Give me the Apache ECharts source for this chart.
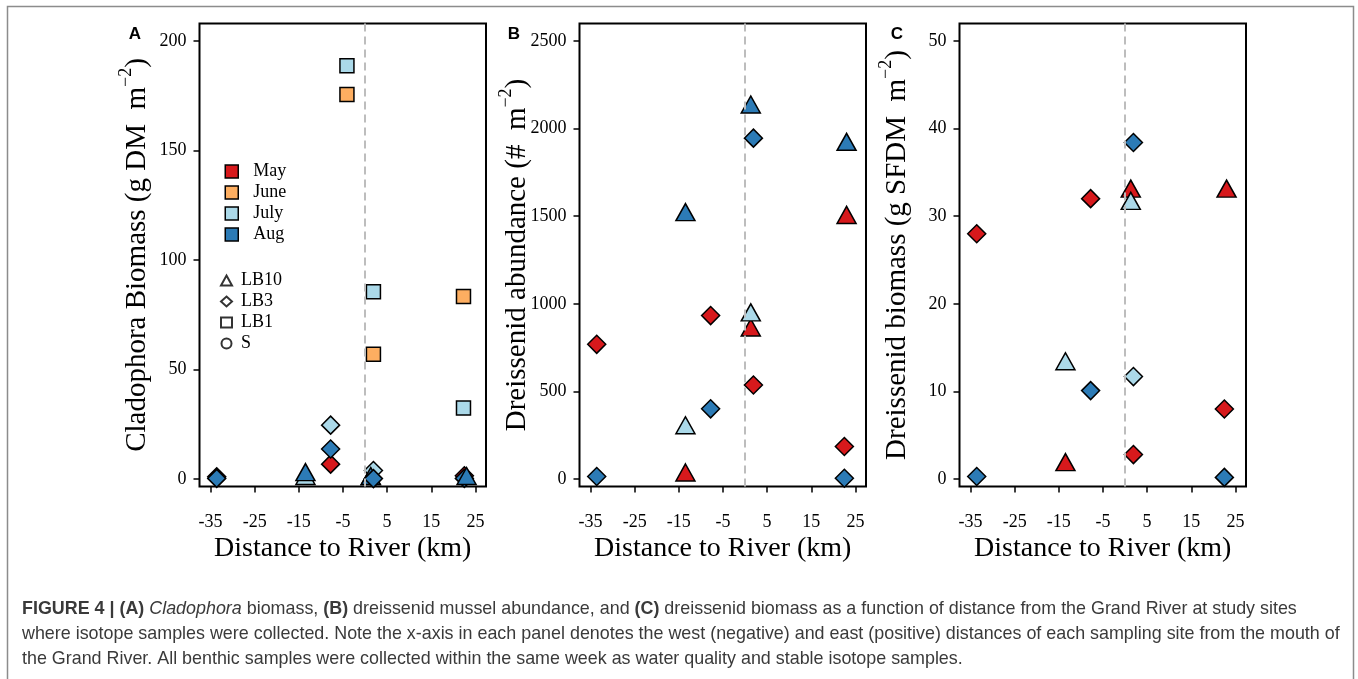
<!DOCTYPE html>
<html>
<head>
<meta charset="utf-8">
<script src="https://cdn.jsdelivr.net/npm/echarts@6/dist/echarts.min.js"></script>
<style>
html, body { margin: 0; padding: 0; background: #fff; }
#chart { width: 1358px; height: 679px; }
</style>
</head>
<body>
<div id="chart"></div>
<script>
var months = ['May', 'June', 'July', 'Aug'];
var monthColors = ['#D7191C', '#FDAE61', '#ABD9E9', '#2C7BB6'];
var sites = ['LB10', 'LB3', 'LB1', 'S'];
var siteSymbols = ['triangle', 'diamond', 'rect', 'circle'];
var siteSizes = [[19, 17], 18, 14, 14];

var xTicks = [-35, -25, -15, -5, 5, 15, 25];
var yTicksA = [0, 50, 100, 150, 200];
var yTicksB = [0, 500, 1000, 1500, 2000, 2500];
var yTicksC = [0, 10, 20, 30, 40, 50];

// [distance to river (km), value, month, site]
var cladophora = [
    [-33.6, 1.0, 'May', 'LB3'],
    [-33.6, 0.3, 'Aug', 'LB3'],
    [-13.5, 0, 'July', 'LB10'],
    [-13.5, 1.8, 'Aug', 'LB10'],
    [-7.8, 6.8, 'May', 'LB3'],
    [-7.8, 24.6, 'July', 'LB3'],
    [-7.8, 13.7, 'Aug', 'LB3'],
    [-4.1, 175.5, 'June', 'LB1'],
    [-4.1, 188.6, 'July', 'LB1'],
    [1.3, 0, 'July', 'LB10'],
    [1.3, 0, 'Aug', 'LB10'],
    [1.9, 57.0, 'June', 'LB1'],
    [1.9, 85.5, 'July', 'LB1'],
    [1.9, 3.9, 'July', 'LB3'],
    [1.9, 0.2, 'Aug', 'LB3'],
    [22.3, 83.3, 'June', 'LB1'],
    [22.3, 32.4, 'July', 'LB1'],
    [22.5, 1.5, 'May', 'LB3'],
    [22.5, 0.3, 'Aug', 'LB3'],
    [23.0, 0, 'Aug', 'LB10']
];

var abundance = [
    [-33.6, 769, 'May', 'LB3'],
    [-33.6, 15, 'Aug', 'LB3'],
    [-13.5, 21, 'May', 'LB10'],
    [-13.5, 290, 'July', 'LB10'],
    [-13.5, 1506, 'Aug', 'LB10'],
    [-7.8, 933, 'May', 'LB3'],
    [-7.8, 401, 'Aug', 'LB3'],
    [1.3, 848, 'May', 'LB10'],
    [1.3, 934, 'July', 'LB10'],
    [1.3, 2120, 'Aug', 'LB10'],
    [1.9, 537, 'May', 'LB3'],
    [1.9, 1945, 'Aug', 'LB3'],
    [22.5, 186, 'May', 'LB3'],
    [22.5, 5, 'Aug', 'LB3'],
    [23.0, 1490, 'May', 'LB10'],
    [23.0, 1907, 'Aug', 'LB10']
];

var biomass = [
    [-33.6, 28.0, 'May', 'LB3'],
    [-33.6, 0.3, 'Aug', 'LB3'],
    [-13.5, 1.6, 'May', 'LB10'],
    [-13.5, 13.1, 'July', 'LB10'],
    [-7.8, 32.0, 'May', 'LB3'],
    [-7.8, 10.1, 'Aug', 'LB3'],
    [1.3, 32.8, 'May', 'LB10'],
    [1.3, 31.4, 'July', 'LB10'],
    [1.9, 2.8, 'May', 'LB3'],
    [1.9, 11.7, 'July', 'LB3'],
    [1.9, 38.4, 'Aug', 'LB3'],
    [22.5, 8.0, 'May', 'LB3'],
    [22.5, 0.2, 'Aug', 'LB3'],
    [23.0, 32.8, 'May', 'LB10']
];

var serif = '"Liberation Serif", "Times New Roman", serif';
var sans = '"Liberation Sans", Arial, sans-serif';

var panels = [
    {rows: cladophora, left: 199.5, yMin: -3.4, yMax: 207.9, yTicks: yTicksA,
     title: ['Cladophora Biomass (g DM  m', ')'], letter: 'A', letterX: 135},
    {rows: abundance, left: 579.5, yMin: -42, yMax: 2599, yTicks: yTicksB,
     title: ['Dreissenid abundance (#  m', ')'], letter: 'B', letterX: 514},
    {rows: biomass, left: 959.5, yMin: -0.84, yMax: 51.98, yTicks: yTicksC,
     title: ['Dreissenid biomass (g SFDM  m', ')'], letter: 'C', letterX: 897}
];

var plain = function (v) { return String(v); };

var grids = [], xAxes = [], yAxes = [], series = [], graphics = [];

panels.forEach(function (p, i) {
    grids.push({
        left: p.left, top: 23.5, width: 286.5, height: 463,
        show: true, borderColor: '#000', borderWidth: 2,
        containLabel: false, outerBoundsMode: 'none'
    });
    xAxes.push({
        gridIndex: i, type: 'value', min: -37.5, max: 27.4,
        name: 'Distance to River (km)', nameLocation: 'middle', nameGap: 48,
        nameMoveOverlap: false,
        nameTextStyle: {fontFamily: serif, fontSize: 28, color: '#000'},
        axisLine: {show: false, onZero: false},
        splitLine: {show: false},
        axisTick: {show: true, length: 6, customValues: xTicks, lineStyle: {color: '#000', width: 1.5}},
        axisLabel: {customValues: xTicks, formatter: plain, margin: 27, fontFamily: serif, fontSize: 18, color: '#000'}
    });
    yAxes.push({
        gridIndex: i, type: 'value', min: p.yMin, max: p.yMax,
        name: '{t|' + p.title[0] + '}{s|\u22122}{t|' + p.title[1] + '}',
        nameLocation: 'middle', nameGap: 42, nameMoveOverlap: false,
        nameTextStyle: {
            color: '#000',
            rich: {
                t: {fontFamily: serif, fontSize: 29, lineHeight: 40, color: '#000'},
                s: {fontFamily: serif, fontSize: 18, verticalAlign: 'top', color: '#000'}
            }
        },
        axisLine: {show: false, onZero: false},
        splitLine: {show: false},
        axisTick: {show: true, length: 6, customValues: p.yTicks, lineStyle: {color: '#000', width: 1.5}},
        axisLabel: {customValues: p.yTicks, formatter: plain, margin: 13, fontFamily: serif, fontSize: 18, color: '#000'}
    });

    // dashed line at the river mouth
    series.push({
        type: 'scatter', name: 'river', xAxisIndex: i, yAxisIndex: i, data: [], z: 1,
        silent: true,
        markLine: {
            symbol: 'none', silent: true, label: {show: false},
            lineStyle: {color: '#bdbdbd', type: [8, 5], width: 2},
            data: [{xAxis: 0}]
        }
    });

    months.forEach(function (m, mi) {
        series.push({
            type: 'scatter', name: m, xAxisIndex: i, yAxisIndex: i, z: 2,
            symbol: 'rect',
            itemStyle: {color: monthColors[mi], borderColor: '#000', borderWidth: 1.5, opacity: 1},
            data: p.rows.filter(function (r) { return r[2] === m; }).map(function (r) {
                var si = sites.indexOf(r[3]);
                return {
                    value: [r[0], r[1]],
                    symbol: siteSymbols[si],
                    symbolSize: siteSizes[si],
                    symbolOffset: si === 0 ? [0, -3] : [0, 0]
                };
            })
        });
    });

    graphics.push({
        type: 'text', x: p.letterX, y: 34,
        style: {text: p.letter, font: 'bold 17px ' + sans, fill: '#000', align: 'center', verticalAlign: 'middle'}
    });
});

// shape legend entries (no points of their own)
sites.forEach(function (s, si) {
    series.push({
        type: 'scatter', name: s, xAxisIndex: 0, yAxisIndex: 0, data: [],
        symbol: siteSymbols[si],
        itemStyle: {color: '#fff', borderColor: '#000', borderWidth: 2}
    });
});

var captionLines = [
    '{b|FIGURE 4 | (A)} {i|Cladophora} biomass, {b|(B)} dreissenid mussel abundance, and {b|(C)} dreissenid biomass as a function of distance from the Grand River at study sites',
    'where isotope samples were collected. Note the x-axis in each panel denotes the west (negative) and east (positive) distances of each sampling site from the mouth of',
    'the Grand River. All benthic samples were collected within the same week as water quality and stable isotope samples.'
];

captionLines.forEach(function (line, li) {
    graphics.push({
        type: 'text', x: 22, y: 609 + li * 25,
        style: {
            text: line, fontFamily: sans, fontSize: 17.9, fill: '#3a3a3a', verticalAlign: 'middle',
            rich: {
                b: {fontFamily: sans, fontSize: 17.9, fontWeight: 'bold', fill: '#3a3a3a'},
                i: {fontFamily: sans, fontSize: 17.9, fontStyle: 'italic', fill: '#3a3a3a'}
            }
        }
    });
});

graphics.push({
    type: 'rect', shape: {x: 7.5, y: 6.5, width: 1346, height: 700},
    style: {fill: 'none', stroke: '#8c8c8c', lineWidth: 1.5}, silent: true
});

var chart = echarts.init(document.getElementById('chart'));

chart.setOption({
    animation: false,
    backgroundColor: '#fff',
    grid: grids,
    xAxis: xAxes,
    yAxis: yAxes,
    legend: [{
        data: months.map(function (m, mi) {
            return {name: m, icon: 'rect', itemStyle: {color: monthColors[mi], borderColor: '#000', borderWidth: 1.5}};
        }),
        orient: 'vertical', left: 224.5, top: 162.5,
        itemWidth: 13, itemHeight: 13, itemGap: 3, padding: 0,
        selectedMode: false,
        textStyle: {fontFamily: serif, fontSize: 18, color: '#000', padding: [0, 0, 0, 10]}
    }, {
        data: sites.map(function (s, si) {
            return {name: s, icon: siteSymbols[si], itemStyle: {color: '#fff', borderColor: '#000', borderWidth: 2}};
        }),
        orient: 'vertical', left: 220, top: 271.5,
        itemWidth: 11, itemHeight: 10, itemGap: 3, padding: 0,
        selectedMode: false,
        textStyle: {fontFamily: serif, fontSize: 18, color: '#000', padding: [0, 0, 0, 4]}
    }],
    series: series,
    graphic: graphics
});
</script>
</body>
</html>
